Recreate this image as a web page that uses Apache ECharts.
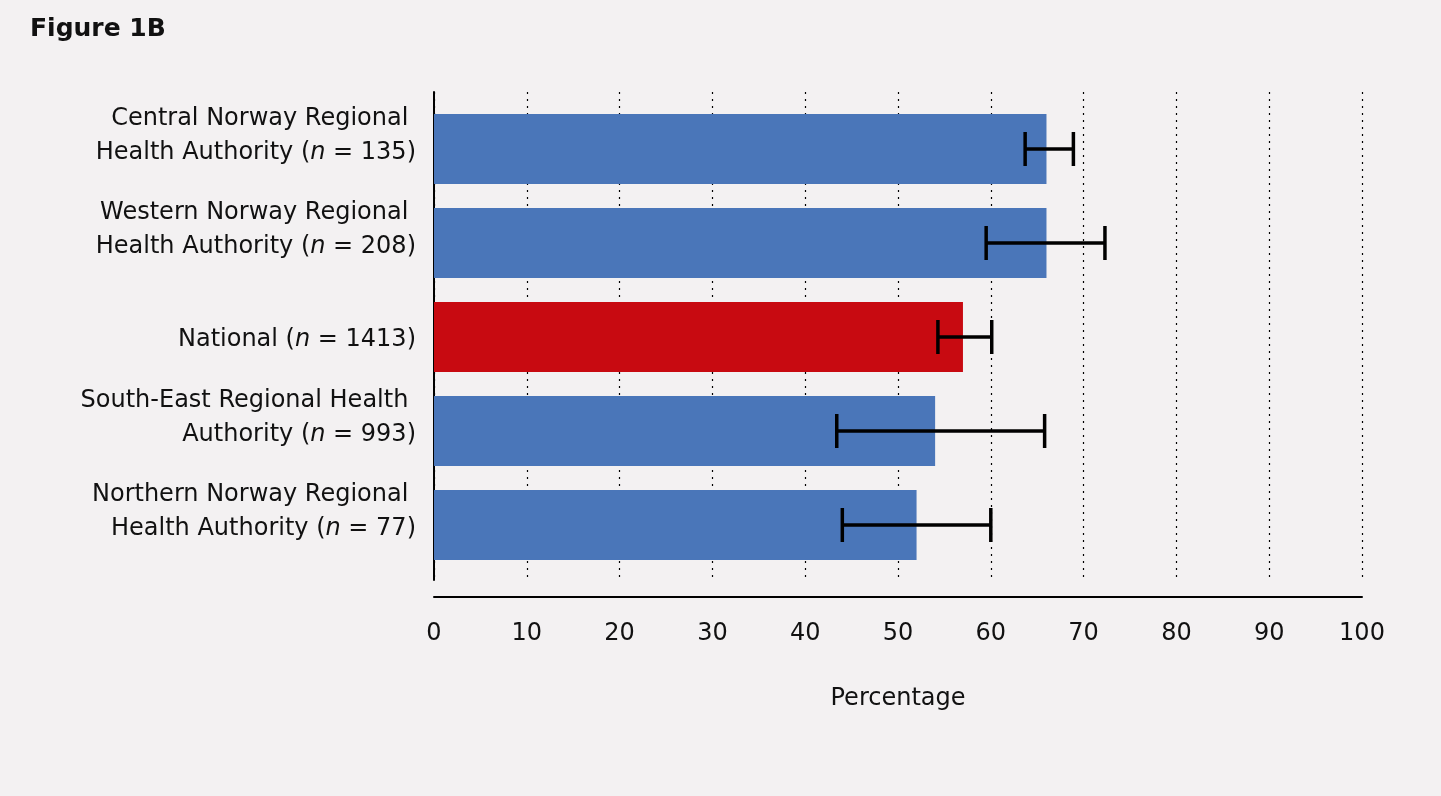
<!DOCTYPE html>
<html>
<head>
<meta charset="utf-8">
<script src="https://cdn.jsdelivr.net/npm/echarts@6/dist/echarts.min.js"></script>
<style>
html,body{margin:0;padding:0;background:#f3f1f2;}
#chart{width:1441px;height:796px;}
</style>
</head>
<body>
<div id="chart"></div>
<script>
const categories = [
  "Central Norway Regional \nHealth Authority ({i|n} = 135)",
  "Western Norway Regional \nHealth Authority ({i|n} = 208)",
  "National ({i|n} = 1413)",
  "South-East Regional Health \nAuthority ({i|n} = 993)",
  "Northern Norway Regional \nHealth Authority ({i|n} = 77)"
];
const percentages = [66, 66, 57, 54, 52];
const ciLow = [63.7, 59.5, 54.3, 43.4, 44.0];
const ciHigh = [68.9, 72.3, 60.1, 65.8, 60.0];
const highlightIndex = 2;
const xTicks = [0, 10, 20, 30, 40, 50, 60, 70, 80, 90, 100];

const FONT = "DejaVu Sans";
const FS = 24;
const chart = echarts.init(document.getElementById('chart'));

const barData = percentages.map((v, i) => ({
  value: v,
  itemStyle: { color: i === highlightIndex ? '#c80a11' : '#4a76b9' }
}));
const errData = percentages.map((v, i) => [ciLow[i], ciHigh[i], i]);
const catData = categories.map(c => ({
  value: c,
  textStyle: { padding: c.indexOf('\n') >= 0 ? [0, 0, 26, 0] : [6, 0, 0, 0] }
}));

chart.setOption({
  backgroundColor: '#f3f1f2',
  animation: false,
  title: {
    text: 'Figure 1B',
    left: 25, top: 12,
    textStyle: { fontFamily: FONT, fontWeight: 'bold', fontSize: 25, color: '#111' }
  },
  grid: [
    { left: 434, top: 92, width: 928, height: 488 },
    { left: 434, top: 102, width: 928, height: 470 }
  ],
  xAxis: [
    {
      type: 'value', gridIndex: 0, min: 0, max: 100, interval: 10,
      offset: 17,
      axisLine: { show: true, lineStyle: { color: '#000', width: 2 } },
      axisTick: { show: false },
      splitLine: { show: true, lineStyle: { color: '#000', type: [2, 5], width: 1.2 } },
      axisLabel: {
        margin: 25, fontFamily: FONT, fontSize: FS, color: '#111',
        formatter: v => xTicks.includes(v) ? String(v) : ''
      },
      name: 'Percentage', nameLocation: 'middle', nameGap: 90,
      nameTextStyle: { fontFamily: FONT, fontSize: FS, color: '#111' }
    },
    {
      type: 'value', gridIndex: 1, min: 0, max: 100, show: false
    }
  ],
  yAxis: [
    {
      type: 'category', gridIndex: 0, data: [''],
      axisLine: { show: true, lineStyle: { color: '#000', width: 2 } },
      axisTick: { show: false }, axisLabel: { show: false }, splitLine: { show: false }
    },
    {
      type: 'category', gridIndex: 1, data: catData, inverse: true,
      axisLine: { show: false }, axisTick: { show: false },
      axisLabel: {
        margin: 18, align: 'right', fontFamily: FONT, fontSize: FS, color: '#111',
        lineHeight: 34,
        rich: { i: { fontStyle: 'italic', fontFamily: FONT, fontSize: FS, color: '#111', lineHeight: 34 } }
      }
    }
  ],
  series: [
    {
      type: 'bar', xAxisIndex: 1, yAxisIndex: 1,
      data: barData, barWidth: 70
    },
    {
      type: 'custom', xAxisIndex: 1, yAxisIndex: 1,
      data: errData,
      z: 5,
      renderItem: function (params, api) {
        const lo = api.coord([api.value(0), api.value(2)]);
        const hi = api.coord([api.value(1), api.value(2)]);
        const h = 17;
        const style = { stroke: '#000', lineWidth: 3.5 };
        return {
          type: 'group',
          children: [
            { type: 'line', shape: { x1: lo[0], y1: lo[1], x2: hi[0], y2: hi[1] }, style },
            { type: 'line', shape: { x1: lo[0], y1: lo[1] - h, x2: lo[0], y2: lo[1] + h }, style },
            { type: 'line', shape: { x1: hi[0], y1: hi[1] - h, x2: hi[0], y2: hi[1] + h }, style }
          ]
        };
      }
    }
  ]
});
</script>
</body>
</html>
